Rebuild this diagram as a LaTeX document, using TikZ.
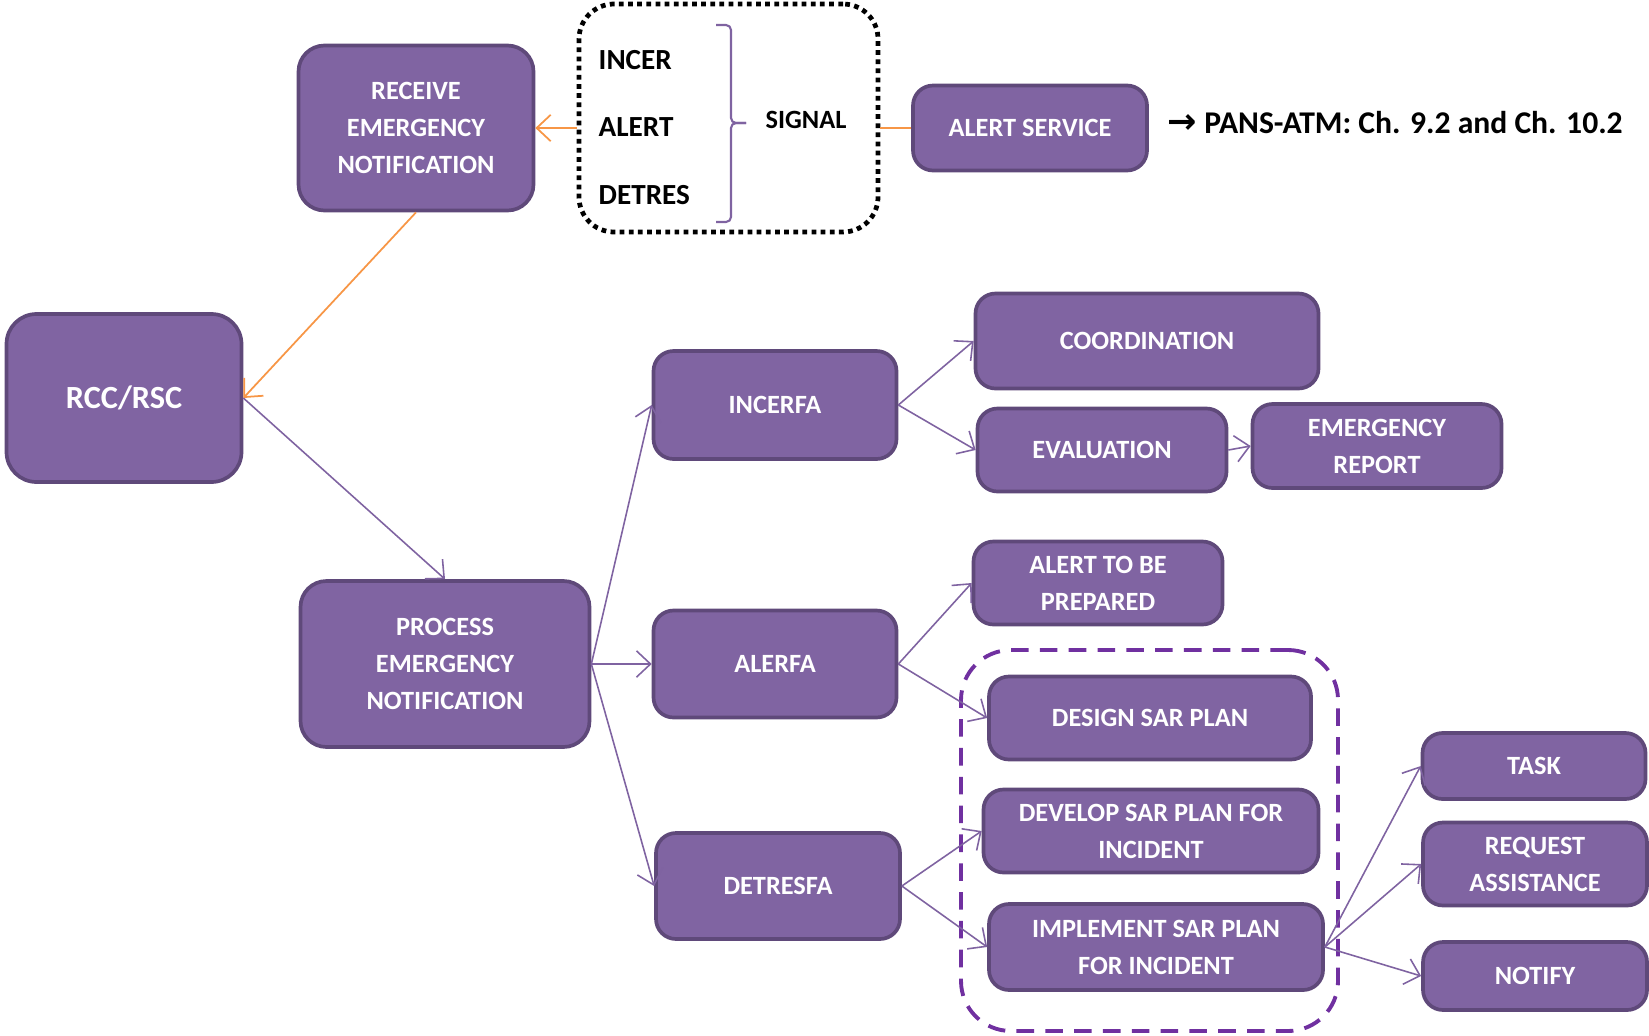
\documentclass[tikz,border=0pt]{standalone}
\usepackage{fontspec}
\setmainfont{Carlito}
\newfontfamily\arrowfont{DejaVu Sans}
\usetikzlibrary{arrows.meta}
\definecolor{boxfill}{HTML}{8064A2}
\definecolor{boxline}{HTML}{5F497A}
\definecolor{linkpurple}{HTML}{7F63A1}
\definecolor{linkorange}{HTML}{F79646}
\definecolor{groupline}{HTML}{7030A0}

\tikzset{
	stage/.style={draw=boxline, line width=1.05pt, fill=boxfill, rounded corners=0.2cm, text=white, align=center, inner sep=0pt, font=\bfseries\fontsize{7.5}{10.5}\selectfont},
	link/.style={draw=linkpurple, line width=0.45pt},
	feed/.style={draw=linkorange, line width=0.5pt},
	msg/.style={anchor=west, inner sep=0pt, font=\bfseries\fontsize{8.3}{10}\selectfont},
	sigframe/.style={draw=black, line width=1.35pt, dash pattern=on 1.35pt off 1.25pt, rounded corners=0.35cm, inner sep=0pt},
	sargroup/.style={draw=groupline, line width=1.1pt, dash pattern=on 5pt off 3.2pt, rounded corners=0.5cm, inner sep=0pt},
}

\begin{document}
\begin{tikzpicture}[>={Straight Barb[length=4pt,width=7.5pt]}]
	\useasboundingbox (0,0) rectangle (16.49,10.35);

	\node[sigframe, minimum width=2.99cm, minimum height=2.28cm] (sigbox) at (7.285,9.17) {};
	\node[msg] (incer) at (5.98,9.75) {INCER};
	\node[msg] (alert) at (5.98,9.08) {ALERT};
	\node[msg] (detres) at (5.98,8.40) {DETRES};
	\draw[linkpurple][line width=0.6pt][rounded corners=0.05cm] (7.16,10.10) -- (7.31,10.10) -- (7.31,9.12) -- (7.46,9.12);
	\draw[linkpurple][line width=0.6pt][rounded corners=0.05cm] (7.46,9.12) -- (7.31,9.12) -- (7.31,8.13) -- (7.16,8.13);
	\node[msg, anchor=center, font=\bfseries\fontsize{7.5}{9}\selectfont] (signal) at (8.06,9.15) {SIGNAL};

	\node[stage, minimum width=2.35cm, minimum height=1.65cm, rounded corners=0.26cm] (receive) at (4.16,9.07) {RECEIVE\\EMERGENCY\\NOTIFICATION};
	\node[stage, minimum width=2.34cm, minimum height=0.85cm] (alertsvc) at (10.30,9.07) {ALERT SERVICE};
	\node[msg, anchor=base west, font=\bfseries\fontsize{9}{10}\selectfont] (pans) at (11.67,9.02) {{\arrowfont\bfseries\fontsize{10}{10}\selectfont →} PANS-ATM: Ch. 9.2 and Ch. 10.2};

	\node[stage, minimum width=2.35cm, minimum height=1.68cm, rounded corners=0.3cm, font=\bfseries\fontsize{9.2}{11}\selectfont] (rcc) at (1.24,6.37) {RCC/RSC};
	\node[stage, minimum width=2.89cm, minimum height=1.66cm, rounded corners=0.26cm] (process) at (4.45,3.71) {PROCESS\\EMERGENCY\\NOTIFICATION};

	\node[stage, minimum width=2.43cm, minimum height=1.08cm] (incerfa) at (7.75,6.30) {INCERFA};
	\node[stage, minimum width=2.43cm, minimum height=1.07cm] (alerfa) at (7.75,3.71) {ALERFA};
	\node[stage, minimum width=2.44cm, minimum height=1.06cm] (detresfa) at (7.78,1.49) {DETRESFA};

	\node[stage, minimum width=3.43cm, minimum height=0.95cm] (coord) at (11.47,6.94) {COORDINATION};
	\node[stage, minimum width=2.49cm, minimum height=0.83cm] (eval) at (11.02,5.85) {EVALUATION};
	\node[stage, minimum width=2.49cm, minimum height=0.84cm] (report) at (13.77,5.89) {EMERGENCY\\REPORT};
	\node[stage, minimum width=2.49cm, minimum height=0.83cm] (prepared) at (10.98,4.52) {ALERT TO BE\\PREPARED};

	\node[sargroup, minimum width=3.77cm, minimum height=3.81cm] (sarplan) at (11.495,1.945) {};
	\node[stage, minimum width=3.22cm, minimum height=0.83cm] (design) at (11.50,3.17) {DESIGN SAR PLAN};
	\node[stage, minimum width=3.35cm, minimum height=0.83cm] (develop) at (11.51,2.04) {DEVELOP SAR PLAN FOR\\INCIDENT};
	\node[stage, minimum width=3.34cm, minimum height=0.86cm] (implement) at (11.56,0.88) {IMPLEMENT SAR PLAN\\FOR INCIDENT};

	\node[stage, minimum width=2.23cm, minimum height=0.66cm] (task) at (15.34,2.69) {TASK};
	\node[stage, minimum width=2.24cm, minimum height=0.83cm] (request) at (15.35,1.71) {REQUEST\\ASSISTANCE};
	\node[stage, minimum width=2.24cm, minimum height=0.68cm] (notify) at (15.35,0.59) {NOTIFY};

	\draw[feed][->] (receive.east -| sigbox.west) -- (receive.east);
	\draw[feed] (alertsvc.west) -- (alertsvc.west -| sigbox.east);
	\draw[feed][->] (receive.south) -- (rcc.east);

	\draw[link][->] (rcc.east) -- (process.north);
	\draw[link][->] (process.east) -- (incerfa.west);
	\draw[link][->] (process.east) -- (alerfa.west);
	\draw[link][->] (process.east) -- (detresfa.west);
	\draw[link][->] (incerfa.east) -- (coord.west);
	\draw[link][->] (incerfa.east) -- (eval.west);
	\draw[link][->] (eval.east) -- (report.west);
	\draw[link][->] (alerfa.east) -- (prepared.west);
	\draw[link][->] (alerfa.east) -- (design.west);
	\draw[link][->] (detresfa.east) -- (develop.west);
	\draw[link][->] (detresfa.east) -- (implement.west);
	\draw[link][->] (implement.east) -- (task.west);
	\draw[link][->] (implement.east) -- (request.west);
	\draw[link][->] (implement.east) -- (notify.west);
\end{tikzpicture}
\end{document}
